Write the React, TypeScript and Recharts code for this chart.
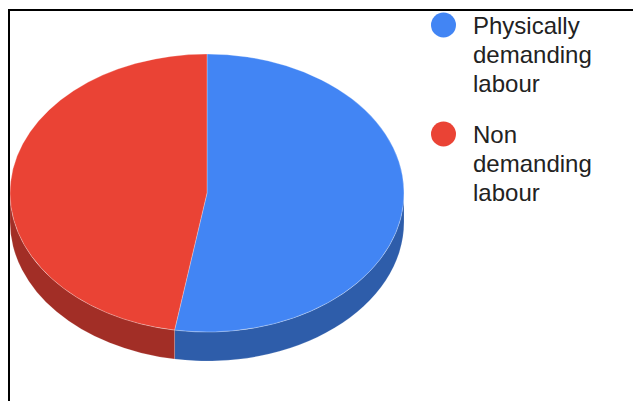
import React from 'react';
import { PieChart, Pie, Cell, Legend } from 'recharts';

// Share of workers by type of labour
const CATEGORIES = ['Physically demanding labour', 'Non demanding labour'];
const VALUES = [10, 9];

const TOP_COLORS = ['#4285F4', '#EA4335'];
const SIDE_COLORS = ['#2E5DAA', '#A22E26'];

const data = CATEGORIES.map((name, i) => ({ name, value: VALUES[i] }));

const W = 633;
const H = 393;
const TILT = 139 / 197;
const DEPTH = 29;
const RAD = Math.PI / 180;

function pt(cx: number, cy: number, r: number, a: number, dy = 0): [number, number] {
  return [cx + r * Math.cos(a * RAD), cy - r * TILT * Math.sin(a * RAD) + dy];
}

// Elliptical top face of one slice
function TopFace(props: any) {
  const { cx, cy, outerRadius: r, startAngle, endAngle, fill } = props;
  const hi = Math.max(startAngle, endAngle);
  const lo = Math.min(startAngle, endAngle);
  const [x1, y1] = pt(cx, cy, r, hi);
  const [x2, y2] = pt(cx, cy, r, lo);
  const large = hi - lo > 180 ? 1 : 0;
  const d = `M${cx},${cy} L${x1},${y1} A${r},${r * TILT} 0 ${large} 1 ${x2},${y2} Z`;
  return <path d={d} fill={fill} stroke="#ffffff" strokeOpacity={0.35} strokeWidth={0.8} />;
}

// Visible outer wall of one slice (front half of the ellipse only)
function SideWall(props: any) {
  const { cx, cy, outerRadius: r, startAngle, endAngle, fill } = props;
  const hi = Math.max(startAngle, endAngle);
  const lo = Math.min(startAngle, endAngle);
  const parts: [number, number][] = [];
  for (let k = -2; k <= 2; k++) {
    const a = Math.min(hi, 360 * k);
    const b = Math.max(lo, 360 * k - 180);
    if (a > b) parts.push([a, b]);
  }
  const ry = r * TILT;
  return (
    <g>
      {parts.map(([a, b], i) => {
        const [x1, y1] = pt(cx, cy, r, a);
        const [x2, y2] = pt(cx, cy, r, b);
        const [x3, y3] = pt(cx, cy, r, b, DEPTH);
        const [x4, y4] = pt(cx, cy, r, a, DEPTH);
        const d = `M${x1},${y1} A${r},${ry} 0 0 1 ${x2},${y2} L${x3},${y3} A${r},${ry} 0 0 0 ${x4},${y4} Z`;
        return <path key={i} d={d} fill={fill} stroke="#ffffff" strokeOpacity={0.25} strokeWidth={0.6} />;
      })}
    </g>
  );
}

const LEGEND_FIRST_Y = [17, 126];
const LINE_GAP = 29;

function LegendContent(props: any) {
  const raw: any[] = (props.payload || []).filter((p: any) => p && p.type !== 'none');
  // keep one entry per category, preferring the top-face series
  const byName = new Map<string, any>();
  raw.forEach((p) => {
    if (TOP_COLORS.includes(p.color) || !byName.has(p.value)) byName.set(p.value, p);
  });
  const items = CATEGORIES.map((c) => byName.get(c)).filter(Boolean);
  return (
    <svg width={213} height={230} style={{ display: 'block' }}>
      {items.map((item: any, i: number) => {
        const cy = LEGEND_FIRST_Y[i];
        const lines = String(item.value).split(' ');
        return (
          <g key={i}>
            <circle cx={15.5} cy={cy} r={12.5} fill={item.color} />
            <text
              x={45}
              y={cy + 9}
              fontFamily="'Liberation Sans', Arial, sans-serif"
              fontSize={24}
              fill="#222222"
            >
              {lines.map((ln, j) => (
                <tspan key={j} x={45} y={cy + 9 + j * LINE_GAP}>
                  {ln}
                </tspan>
              ))}
            </text>
          </g>
        );
      })}
    </svg>
  );
}

export default function App() {
  return (
    <div style={{ position: 'relative', width: W, height: H, background: '#fff' }}>
      <PieChart width={W} height={H} margin={{ top: 0, right: 0, bottom: 0, left: 0 }}>
        <Pie
          data={data}
          dataKey="value"
          nameKey="name"
          cx={199}
          cy={185}
          outerRadius={197}
          startAngle={90}
          endAngle={-270}
          stroke="none"
          legendType="none"
          isAnimationActive={false}
          shape={SideWall}
        >
          {data.map((d, i) => (
            <Cell key={d.name} fill={SIDE_COLORS[i]} />
          ))}
        </Pie>
        <Pie
          data={data}
          dataKey="value"
          nameKey="name"
          cx={199}
          cy={185}
          outerRadius={197}
          startAngle={90}
          endAngle={-270}
          stroke="none"
          isAnimationActive={false}
          shape={TopFace}
        >
          {data.map((d, i) => (
            <Cell key={d.name} fill={TOP_COLORS[i]} />
          ))}
        </Pie>
        <Legend
          layout="vertical"
          align="right"
          verticalAlign="top"
          content={LegendContent}
          wrapperStyle={{ left: 420, top: 0, width: 213, height: 230 }}
        />
      </PieChart>
      <div style={{ position: 'absolute', left: 0, top: 1, width: W, height: 2, background: '#000' }} />
      <div style={{ position: 'absolute', left: 0, top: 1, width: 2, height: H - 1, background: '#000' }} />
    </div>
  );
}
